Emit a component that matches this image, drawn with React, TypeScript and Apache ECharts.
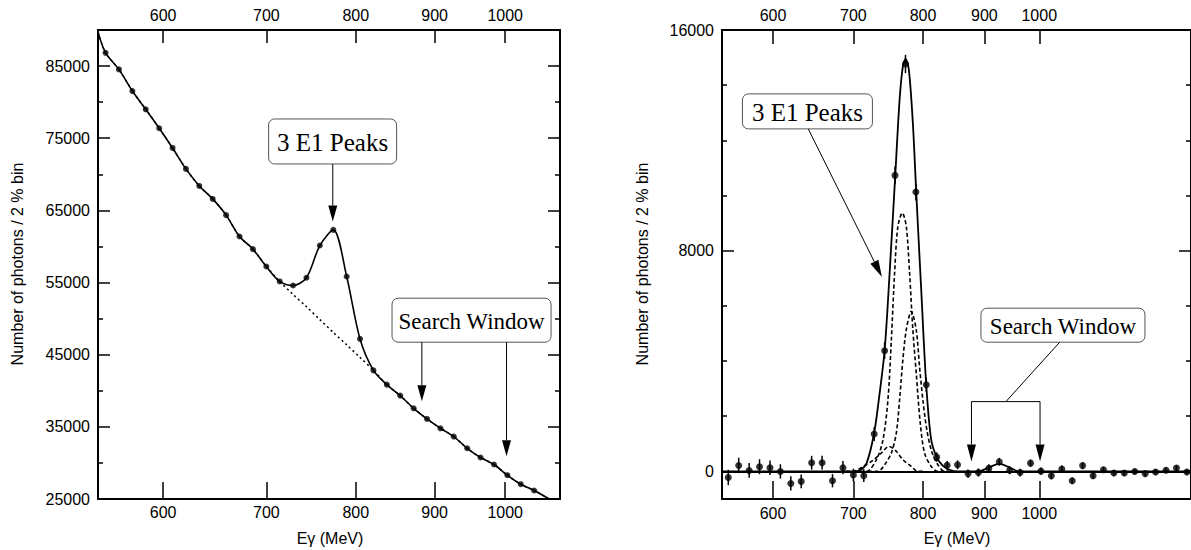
import React, { useEffect, useRef } from "react";
import * as echarts from "echarts";

// Photon energy of each 2 % bin (MeV)
const binE = [550.6, 561.7, 573.1, 584.6, 596.5, 608.5, 620.8, 633.3, 646.1, 659.2, 672.5, 686.1, 700.0, 714.1, 728.5, 743.2, 758.2, 773.6, 789.2, 805.1, 821.4, 838.0, 854.9, 872.2, 889.8, 907.8, 926.1, 944.8, 963.9, 983.4, 1003.2, 1023.5, 1044.2, 1065.3, 1086.8, 1108.8, 1131.1, 1154.0, 1177.3, 1201.1, 1225.4, 1250.1, 1275.4, 1301.2, 1327.4];

// Left panel: raw spectrum
const leftCounts = [86840, 84540, 81540, 79010, 76380, 73650, 70750, 68390, 66590, 64340, 61380, 59630, 57220, 55150, 54590, 55660, 60130, 62300, 55840, 47180, 42830, 40850, 39330, 37570, 36100, 34800, 33650, 32030, 30750, 29780, 28300, 27050, 26180];
// Left panel: smooth background under the peak (dotted), where it leaves the data
const leftBgE = [728.5, 743.2, 758.2, 773.6, 789.2, 805.1];
const leftBgV = [53350, 51650, 49860, 48080, 46370, 44620];
// Left panel: ends of the curves outside the bins
const leftCurveStartE = 544.6;
const leftCurveStartV = 89600;
const leftCurveEndE = 1070;
const leftCurveEndV = 24900;

// Right panel: background-subtracted spectrum
const rightCounts = [-220, 217, 36, 170, 134, 0, -435, -362, 315, 315, -337, 134, -130, -156, 1355, 4375, 10730, 14770, 10130, 3140, 520, 220, 240, -80, -40, 110, 350, 40, -40, 300, 10, -160, 90, -340, 210, -160, 60, -60, -60, 0, -80, -20, 40, 120, -20];
const rightErrors = [280, 280, 270, 270, 260, 260, 260, 250, 250, 250, 240, 240, 230, 230, 250, 300, 320, 330, 310, 260, 170, 160, 160, 150, 150, 150, 140, 140, 140, 130, 130, 130, 120, 120, 120, 110, 110, 110, 100, 100, 100, 100, 100, 100, 100];
// Right panel: total fit (solid)
const fitE = [544, 700, 710, 718, 728.2, 735.5, 743.3, 750.4, 758.6, 764.9, 769.7, 773.7, 778.6, 784.6, 789.7, 797.3, 805, 812.7, 821.5, 830.9, 841.7, 855, 890, 908.5, 926, 944, 962, 1340];
const fitV = [0, 0, 60, 300, 1355, 2700, 4411, 7192, 10755, 13474, 14681, 14950, 14561, 12629, 10114, 6587, 3143, 1149, 508, 207, 60, 0, 0, 150, 270, 150, 0, 0];
// Right panel: the three E1 peak components (dashed)
const peakAE = [700, 717.7, 731.6, 740.9, 748, 752.9, 757.6, 762.4, 768.9, 774.8, 779.7, 784.6, 789.7, 795.8, 802.4, 812.7, 823, 840];
const peakAV = [0, 0, 424, 1149, 2599, 4774, 7192, 8881, 9367, 8881, 7192, 5137, 3567, 1754, 667, 181, 0, 0];
const peakBE = [720, 733.8, 743.3, 752.9, 760.1, 764.9, 769.7, 774.8, 782.2, 789.7, 794.7, 799.8, 805.9, 812.7, 821.5, 833.7, 845];
const peakBV = [0, 0, 243, 667, 1392, 2599, 4049, 5137, 5800, 5137, 3806, 2599, 1512, 787, 304, 0, 0];
const peakCE = [690, 699.6, 713.1, 726.8, 738.6, 749.4, 760.1, 769.7, 782.2, 792.2, 800];
const peakCV = [0, 0, 181, 399, 667, 906, 725, 424, 181, 0, 0];

// Axes
const xTicks = [600, 700, 800, 900, 1000];
const leftYMajor = [25000, 35000, 45000, 55000, 65000, 75000, 85000];
const leftYMinor = [30000, 40000, 50000, 60000, 70000, 80000, 90000];
const rightYMajor = [0, 8000, 16000];
const rightYMinor = [2000, 4000, 6000, 10000, 12000, 14000];

const SANS = "Liberation Sans";
const SERIF = "Liberation Serif";

const ln = Math.log;
const pairs = (es: number[], vs: number[]) => es.map((e, i) => [ln(e), vs[i]]);

function xAxes(grid: number, min: number, max: number, botLen: number, topLen: number, botMargin: number, topMargin: number) {
  const base = {
    type: "value",
    gridIndex: grid,
    min: ln(min),
    max: ln(max),
    splitLine: { show: false },
    axisLine: { show: true, onZero: false, lineStyle: { color: "#000", width: 2 } },
  };
  const label = (margin: number) => ({
    show: true, margin, customValues: xTicks.map(ln),
    formatter: (v: number) => String(Math.round(Math.exp(v))),
    fontFamily: SANS, fontSize: 16, color: "#000",
  });
  return [
    {
      ...base,
      position: "bottom",
      axisTick: { show: true, inside: true, length: botLen, customValues: xTicks.map(ln), lineStyle: { color: "#000", width: 1.5 } },
      axisLabel: label(botMargin),
    },
    {
      ...base,
      position: "top",
      axisTick: { show: true, inside: true, length: topLen, customValues: xTicks.map(ln), lineStyle: { color: "#000", width: 1.5 } },
      axisLabel: label(topMargin),
    },
  ];
}

function yAxes(grid: number, min: number, max: number, major: number[], minor: number[]) {
  const base = { type: "value", gridIndex: grid, min, max, splitLine: { show: false } };
  const line = { show: true, onZero: false, lineStyle: { color: "#000", width: 2 } };
  const tick = (vals: number[], len: number) => ({ show: true, inside: true, length: len, customValues: vals, lineStyle: { color: "#000", width: 1.5 } });
  return [
    {
      ...base,
      position: "left",
      axisLine: line,
      axisTick: tick(major, 12),
      axisLabel: { show: true, margin: 8, customValues: major, formatter: (v: number) => String(v), fontFamily: SANS, fontSize: 16, color: "#000" },
    },
    { ...base, position: "left", axisLine: { show: false }, axisTick: tick(minor, 5), axisLabel: { show: false } },
    { ...base, position: "right", axisLine: line, axisTick: tick(major, 12), axisLabel: { show: false } },
    { ...base, position: "right", axisLine: { show: false }, axisTick: tick(minor, 5), axisLabel: { show: false } },
  ];
}

export default function App() {
  const ref = useRef<HTMLDivElement>(null);

  useEffect(() => {
    document.body.style.margin = "0";
    if (!ref.current) return;
    const chart = echarts.init(ref.current, null, { renderer: "svg" });

    const nL = leftCounts.length;
    const start = [ln(leftCurveStartE), leftCurveStartV];
    const end = [ln(leftCurveEndE), leftCurveEndV];
    const leftPoints = pairs(binE.slice(0, nL), leftCounts);
    const leftFit = [start, ...leftPoints, end];
    const leftBg = [start, ...leftPoints.slice(0, 14), ...pairs(leftBgE, leftBgV), ...leftPoints.slice(20), end];

    const option: any = {
      animation: false,
      backgroundColor: "#fff",
      grid: [
        { left: 98, top: 30, width: 462, height: 469 },
        { left: 722, top: 30, width: 471, height: 469 },
      ],
      xAxis: [...xAxes(0, 544.4, 1085.3, 17, 13, 5, 7), ...xAxes(1, 544, 1338, 18, 14, 6, 7)],
      yAxis: [...yAxes(0, 25000, 90000, leftYMajor, leftYMinor), ...yAxes(1, -1000, 16000, rightYMajor, rightYMinor)],
      series: [
        // 0: left background (dotted)
        {
          type: "line", xAxisIndex: 0, yAxisIndex: 0, data: leftBg, smooth: 0.3, symbol: "none",
          lineStyle: { color: "#000", width: 1.5, type: [2, 3] }, z: 2, silent: true,
        },
        // 1: left fit (solid)
        {
          type: "line", xAxisIndex: 0, yAxisIndex: 0, data: leftFit, smooth: 0.3, symbol: "none",
          lineStyle: { color: "#000", width: 1.6 }, z: 3, silent: true,
        },
        // 2: left points
        {
          type: "scatter", xAxisIndex: 0, yAxisIndex: 0, data: leftPoints,
          symbol: "circle", symbolSize: 6, itemStyle: { color: "#000" }, z: 4, silent: true,
        },
        // 3-5: right peak components (dashed)
        ...[pairs(peakAE, peakAV), pairs(peakBE, peakBV), pairs(peakCE, peakCV)].map((d) => ({
          type: "line", xAxisIndex: 2, yAxisIndex: 4, data: d, smooth: 0.3, symbol: "none",
          lineStyle: { color: "#000", width: 1.6, type: [4, 2.5] }, z: 2, silent: true,
        })),
        // 6: right total fit (solid) + zero line
        {
          type: "line", xAxisIndex: 2, yAxisIndex: 4, data: pairs(fitE, fitV), smooth: 0.3, symbol: "none",
          lineStyle: { color: "#000", width: 1.8 }, z: 3, silent: true,
          markLine: {
            silent: true, symbol: "none", label: { show: false },
            lineStyle: { color: "#000", width: 2, type: "solid" },
            data: [{ yAxis: 0 }],
          },
        },
        // 7: right error bars
        {
          type: "custom", xAxisIndex: 2, yAxisIndex: 4, silent: true, z: 4,
          data: binE.map((e, i) => [ln(e), rightCounts[i] - rightErrors[i], rightCounts[i] + rightErrors[i]]),
          encode: { x: 0, y: [1, 2] },
          renderItem: (_p: any, api: any) => {
            const lo = api.coord([api.value(0), api.value(1)]);
            const hi = api.coord([api.value(0), api.value(2)]);
            return { type: "line", shape: { x1: lo[0], y1: lo[1], x2: hi[0], y2: hi[1] }, style: { stroke: "#000", lineWidth: 1.5 } };
          },
        },
        // 8: right points
        {
          type: "scatter", xAxisIndex: 2, yAxisIndex: 4, data: pairs(binE, rightCounts),
          symbol: "circle", symbolSize: 7, itemStyle: { color: "#000" }, z: 5, silent: true,
        },
      ],
    };
    chart.setOption(option);

    // ---------- annotations, anchored in data coordinates ----------
    const L = (e: number, v: number) => chart.convertToPixel({ seriesIndex: 2 }, [ln(e), v]) as number[];
    const R = (e: number, v: number) => chart.convertToPixel({ seriesIndex: 8 }, [ln(e), v]) as number[];
    const g: any[] = [];
    const box = (c: number[], w: number, h: number, text: string, size: number) => {
      g.push({ type: "rect", z: 100, shape: { x: c[0] - w / 2, y: c[1] - h / 2, width: w, height: h, r: 6 }, style: { fill: "#fff", stroke: "#555", lineWidth: 1 } });
      g.push({ type: "text", z: 101, x: c[0], y: c[1] + 1, style: { text, font: `${size}px "${SERIF}"`, fill: "#000", align: "center", verticalAlign: "middle", textAlign: "center", textVerticalAlign: "middle" } });
      return { top: c[1] - h / 2, bottom: c[1] + h / 2 };
    };
    const seg = (a: number[], b: number[]) => g.push({ type: "line", z: 100, shape: { x1: a[0], y1: a[1], x2: b[0], y2: b[1] }, style: { stroke: "#000", lineWidth: 1 } });
    const arrow = (a: number[], tip: number[], len = 16, half = 4.5) => {
      const dx = tip[0] - a[0], dy = tip[1] - a[1];
      const d = Math.hypot(dx, dy) || 1;
      const ux = dx / d, uy = dy / d;
      const bx = tip[0] - ux * len, by = tip[1] - uy * len;
      seg(a, [bx, by]);
      g.push({ type: "polygon", z: 100, shape: { points: [[tip[0], tip[1]], [bx - uy * half, by + ux * half], [bx + uy * half, by - ux * half]] }, style: { fill: "#000" } });
    };

    // left panel
    const lb1 = box(L(772.8, 74550), 128, 45, "3 E1 Peaks", 25);
    const lt1 = L(773, 63450);
    arrow([lt1[0], lb1.bottom], lt1);
    const lb2 = box(L(951, 49780), 159, 44, "Search Window", 23);
    const lt2 = L(883, 38540);
    arrow([lt2[0], lb2.bottom], lt2);
    const lt3 = L(1002, 30930);
    arrow([lt3[0], lb2.bottom], lt3);

    // right panel
    const rb1 = box(R(640.9, 13050), 130, 35, "3 E1 Peaks", 25);
    const rs1 = R(641.9, 0);
    arrow([rs1[0], rb1.bottom], R(739.4, 7047), 17, 4.5);
    const rb2 = box(R(1046.5, 5300), 164, 34, "Search Window", 23);
    const leadStart = R(1040, 0);
    const bl = R(878, 2530), br = R(1001.5, 2530), mid = R(938, 2530);
    seg([leadStart[0], rb2.bottom], mid);
    seg(bl, br);
    arrow(bl, R(878, 363), 17, 4.5);
    arrow(br, R(1001.5, 363), 17, 4.5);

    // axis titles
    const title = (x: number, y: number, text: string, rot = 0) =>
      g.push({ type: "text", x, y, rotation: rot, style: { text, font: `16px "${SANS}"`, fill: "#000", align: "center", verticalAlign: "middle", textAlign: "center", textVerticalAlign: "middle" } });
    title(17.5, 264, "Number of photons / 2 % bin", Math.PI / 2);
    title(642, 264, "Number of photons / 2 % bin", Math.PI / 2);
    title(330, 538, "Eγ (MeV)");
    title(957, 538, "Eγ (MeV)");

    chart.setOption({ graphic: g });

    return () => chart.dispose();
  }, []);

  return <div ref={ref} style={{ width: 1191, height: 550 }} />;
}
